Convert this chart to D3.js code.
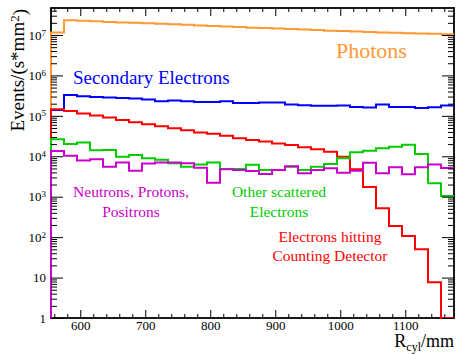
<!DOCTYPE html>
<html><head><meta charset="utf-8">
<script src="https://cdn.jsdelivr.net/npm/d3@7"></script>
<style>
body{margin:0;background:#fff}
svg text{font-family:"Liberation Serif","DejaVu Serif",serif !important}
</style>
</head><body>
<svg id="c" width="456" height="355"></svg>
<script>
// ---- data ----
const xRange = [555, 1175];
const binWidth = 20;
const photons = [1.15e7, 2.3e7, 2.25e7, 2.2e7, 2.1e7, 2.05e7, 2.0e7, 1.95e7, 1.9e7, 1.84e7, 1.78e7, 1.72e7, 1.67e7, 1.62e7, 1.57e7, 1.52e7, 1.48e7, 1.44e7, 1.4e7, 1.36e7, 1.32e7, 1.28e7, 1.25e7, 1.22e7, 1.19e7, 1.16e7, 1.13e7, 1.11e7, 1.09e7, 1.07e7, 1.05e7];
const secondary = [1.4e5, 3.3e5, 3.05e5, 2.94e5, 2.84e5, 2.78e5, 2.68e5, 2.53e5, 2.3e5, 2.4e5, 2.3e5, 2.21e5, 2.21e5, 2.3e5, 2.09e5, 2.09e5, 2.13e5, 2.13e5, 1.9e5, 1.83e5, 1.77e5, 1.77e5, 1.8e5, 1.66e5, 1.6e5, 1.9e5, 1.66e5, 1.66e5, 1.57e5, 1.63e5, 1.8e5];
const hitting = [1.45e5, 1.32e5, 1.14e5, 1.02e5, 9.1e4, 7.95e4, 6.97e4, 6.22e4, 5.56e4, 4.96e4, 4.43e4, 3.88e4, 3.59e4, 3.2e4, 2.81e4, 2.51e4, 2.33e4, 2.08e4, 1.89e4, 1.68e4, 1.5e4, 1.3e4, 9.8e3, 4.75e3, 1.74e3, 518, 189, 107, 50, 7.7, 0];
const scattered = [2.65e4, 2.0e4, 2.2e4, 1.4e4, 1.42e4, 9.7e3, 1.07e4, 9.0e3, 8.2e3, 6.7e3, 5.5e3, 6.3e3, 7.06e3, 4.83e3, 4.83e3, 6.16e3, 4.56e3, 4.56e3, 5.5e3, 4.56e3, 5.5e3, 6.4e3, 8.9e3, 1.25e4, 1.37e4, 1.57e4, 1.72e4, 1.93e4, 1.14e4, 2.16e3, 1.04e3];
const hadrons = [1.36e4, 1.03e4, 7.9e3, 8.5e3, 5.5e3, 7.06e3, 4.38e3, 6.67e3, 7.06e3, 7.0e3, 6.7e3, 5.2e3, 2.2e3, 4.75e3, 4.56e3, 4.3e3, 3.63e3, 4.56e3, 5.7e3, 3.8e3, 4.56e3, 5.05e3, 3.93e3, 4.4e3, 6.9e3, 3.8e3, 5.33e3, 3.58e3, 5.33e3, 6.3e3, 5.1e3];
const xMajorTicks = [600, 700, 800, 900, 1000, 1100];
const yMajorTicks = [1, 10, 1e2, 1e3, 1e4, 1e5, 1e6, 1e7];
const yMax = 4.65e7;

const series = [
  {vals: photons, color: "#ff9933"},
  {vals: secondary, color: "#0000ff"},
  {vals: hitting, color: "#ff0000"},
  {vals: scattered, color: "#00cc00"},
  {vals: hadrons, color: "#cc00cc"}
];

// ---- layout ----
const FONT = '"Liberation Serif","DejaVu Serif",serif';
const L = 51, R = 454, T = 8, B = 318;
const svg = d3.select("#c");
const x = d3.scaleLinear().domain(xRange).range([L, R]);
const y = d3.scaleLog().domain([1, yMax]).range([B, T]).clamp(true);

const edges = d3.range(xRange[0], xRange[1] + 0.1, binWidth);
const xMinorTicks = d3.range(560, 1175, 20).filter(v => !xMajorTicks.includes(v));
const yMinorTicks = [];
for (let k = 0; k < 8; k++) for (let m = 2; m <= 9; m++) { const v = m * Math.pow(10, k); if (v <= yMax) yMinorTicks.push(v); }

// frame
svg.append("rect").attr("x", L).attr("y", T).attr("width", R - L).attr("height", B - T)
  .attr("fill", "none").attr("stroke", "#000").attr("stroke-width", 1.8);

// histograms
const yv = v => v > 0 ? y(v) : B;
const line = d3.line().x(d => d[0]).y(d => d[1]).curve(d3.curveStepAfter);
series.forEach(s => {
  const pts = [[x(edges[0]), B]];
  s.vals.forEach((v, i) => pts.push([x(edges[i]), yv(v)]));
  pts.push([x(edges[s.vals.length]), yv(s.vals[s.vals.length - 1])]);
  svg.append("path").attr("d", line(pts)).attr("fill", "none")
    .attr("stroke", s.color).attr("stroke-width", 2);
});

// axes
function clean(g){
  g.attr("font-family", FONT);
  g.select(".domain").remove();
  g.selectAll("line").attr("stroke","#000").attr("stroke-width",1);
}
svg.append("g").attr("transform", `translate(0,${B})`)
  .call(d3.axisBottom(x).tickValues(xMajorTicks).tickSize(-8).tickPadding(3).tickFormat(d3.format("d")))
  .call(clean).call(g => g.selectAll("text").attr("font-size", 13).attr("fill","#000").attr("font-family", FONT));
svg.append("g").attr("transform", `translate(0,${B})`)
  .call(d3.axisBottom(x).tickValues(xMinorTicks).tickSize(-4).tickFormat("")).call(clean);
svg.append("g").attr("transform", `translate(0,${T})`)
  .call(d3.axisTop(x).tickValues(xMajorTicks).tickSize(-8).tickFormat("")).call(clean);
svg.append("g").attr("transform", `translate(0,${T})`)
  .call(d3.axisTop(x).tickValues(xMinorTicks).tickSize(-4).tickFormat("")).call(clean);

svg.append("g").attr("transform", `translate(${L},0)`)
  .call(d3.axisLeft(y).tickValues(yMajorTicks).tickSize(-12).tickPadding(5))
  .call(clean)
  .call(g => g.selectAll("text").attr("font-size", 13).attr("fill","#000").attr("font-family", FONT)
     .each(function(d){
        const e = Math.round(Math.log10(d));
        const t = d3.select(this).text(null);
        if (e <= 1) t.text(String(d));
        else { t.append("tspan").text("10"); t.append("tspan").attr("dy","-0.45em").attr("font-size","9px").text(e); }
     }));
svg.append("g").attr("transform", `translate(${L},0)`)
  .call(d3.axisLeft(y).tickValues(yMinorTicks).tickSize(-6).tickFormat("")).call(clean);
svg.append("g").attr("transform", `translate(${R},0)`)
  .call(d3.axisRight(y).tickValues(yMajorTicks).tickSize(-12).tickFormat("")).call(clean);
svg.append("g").attr("transform", `translate(${R},0)`)
  .call(d3.axisRight(y).tickValues(yMinorTicks).tickSize(-6).tickFormat("")).call(clean);

// axis titles
const yt = svg.append("text").attr("transform", "translate(24,9) rotate(-90)")
  .attr("text-anchor", "end").attr("font-size", 19).attr("fill", "#000").attr("font-family", FONT);
yt.append("tspan").text("Events/(s*mm");
yt.append("tspan").attr("dy", "-0.4em").attr("font-size", 13).text("2");
yt.append("tspan").attr("dy", "0.4em").text(")");

const xt = svg.append("text").attr("x", R).attr("y", 346.5)
  .attr("text-anchor", "end").attr("font-size", 18).attr("fill", "#000").attr("font-family", FONT);
xt.append("tspan").text("R");
xt.append("tspan").attr("dy", 4).attr("font-size", 12).text("cyl");
xt.append("tspan").attr("dy", -4).text("/mm");

// labels
function label(txt, xx, yy, size, color, anchor){
  svg.append("text").attr("x", xx).attr("y", yy).attr("font-size", size).attr("font-family", FONT)
    .attr("fill", color).attr("text-anchor", anchor || "start").text(txt);
}
label("Photons", 336, 58, 22, "#ff9933");
label("Secondary Electrons", 73, 83.5, 19, "#0000ff");
label("Neutrons, Protons,", 131, 197, 15.5, "#cc00cc", "middle");
label("Positrons", 131, 216.5, 15.5, "#cc00cc", "middle");
label("Other scattered", 279, 197, 15.5, "#00cc00", "middle");
label("Electrons", 279, 216.5, 15.5, "#00cc00", "middle");
label("Electrons hitting", 330, 241.5, 15.5, "#ff0000", "middle");
label("Counting Detector", 330, 261, 15.5, "#ff0000", "middle");
</script>
</body></html>
